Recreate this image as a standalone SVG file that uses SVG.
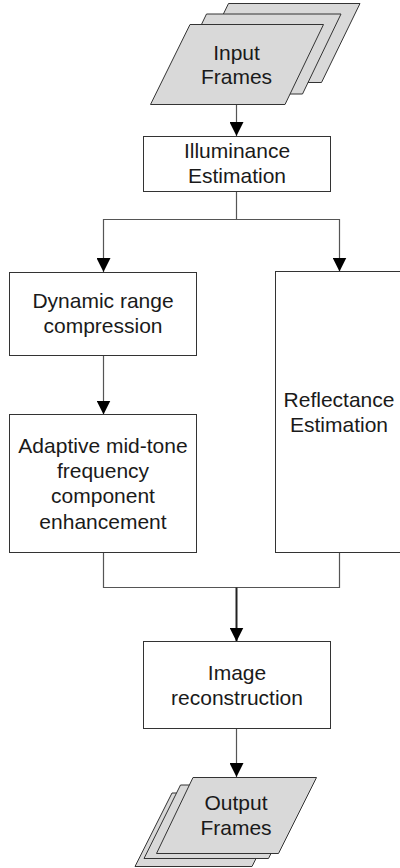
<svg xmlns="http://www.w3.org/2000/svg" width="400" height="868" viewBox="0 0 400 868">
<defs>
<style>
.box{fill:#ffffff;stroke:#333333;stroke-width:1}
.frame{fill:#d9d9d9;stroke:#333333;stroke-width:1}
.t{font-family:"Liberation Sans",Arial,sans-serif;font-size:21px;fill:#1a1a1a;text-anchor:middle}
.ln{fill:none;stroke:#555555;stroke-width:1.2}
.lnb{fill:none;stroke:#222222;stroke-width:2}
</style>
<marker id="ah" markerUnits="userSpaceOnUse" markerWidth="14" markerHeight="14" refX="14" refY="7" orient="auto">
<path d="M0,0 L14,7 L0,14 z" fill="#000000"/>
</marker>
</defs>
<rect width="400" height="868" fill="#ffffff"/>
<g id="connectors">
<path class="ln" d="M236.5,104.5 V136" marker-end="url(#ah)"/>
<path class="ln" d="M236.5,192 V219.5 H103.5 V272" marker-end="url(#ah)"/>
<path class="ln" d="M236.5,219.5 H339.5 V271.5" marker-end="url(#ah)"/>
<path class="ln" d="M103.5,355.5 V414.5" marker-end="url(#ah)"/>
<path class="ln" d="M103.5,552.5 V587.5 H339.5 V552.5"/>
<path class="lnb" d="M236.5,587.5 V641.5" marker-end="url(#ah)"/>
<path class="ln" d="M236.5,728.5 V777" marker-end="url(#ah)"/>
</g>
<g id="input-frames">
<polygon class="frame" points="228.5,3.5 360,3.5 321.5,82.5 190,82.5"/>
<polygon class="frame" points="206.5,14 341,14 302.5,94 168,94"/>
<polygon class="frame" points="190,24.5 323.5,24.5 285,104.5 150.5,104.5"/>
<text class="t" x="236.5" y="59.5">Input</text>
<text class="t" x="236.5" y="84">Frames</text>
</g>
<g id="illuminance">
<rect class="box" x="143.5" y="136.5" width="187" height="55"/>
<text class="t" x="237" y="158">Illuminance</text>
<text class="t" x="237" y="183">Estimation</text>
</g>
<g id="dynamic-range">
<rect class="box" x="9.5" y="272.5" width="187" height="83"/>
<text class="t" x="103" y="308">Dynamic range</text>
<text class="t" x="103" y="333">compression</text>
</g>
<g id="adaptive">
<rect class="box" x="9.5" y="414.5" width="187" height="138"/>
<text class="t" x="103" y="452.5">Adaptive mid-tone</text>
<text class="t" x="103" y="477.5">frequency</text>
<text class="t" x="103" y="503">component</text>
<text class="t" x="103" y="528.5">enhancement</text>
</g>
<g id="reflectance">
<rect class="box" x="275.5" y="271.5" width="130" height="281"/>
<text class="t" x="339" y="407">Reflectance</text>
<text class="t" x="339" y="432">Estimation</text>
</g>
<g id="reconstruction">
<rect class="box" x="143.5" y="641.5" width="187" height="87"/>
<text class="t" x="237" y="680">Image</text>
<text class="t" x="237" y="705">reconstruction</text>
</g>
<g id="output-frames">
<polygon class="frame" points="172,793 289,793 252,866.5 135,866.5"/>
<polygon class="frame" points="180.5,785 305,785 268.5,858.5 144,858.5"/>
<polygon class="frame" points="193,777.5 316.5,777.5 278.5,853.5 156.5,853.5"/>
<text class="t" x="236" y="810">Output</text>
<text class="t" x="236" y="835">Frames</text>
</g>
</svg>
